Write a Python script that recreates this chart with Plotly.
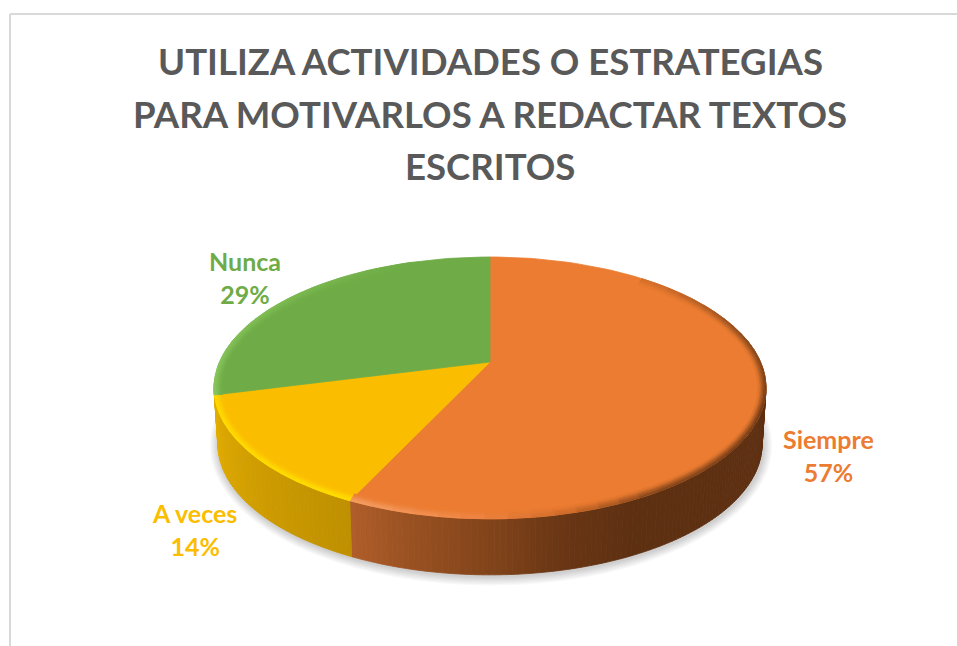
import math
import plotly.graph_objects as go

# ---- data ----
title_lines = ["UTILIZA ACTIVIDADES O ESTRATEGIAS", "PARA MOTIVARLOS A REDACTAR TEXTOS", "ESCRITOS"]
categories = ["Siempre", "A veces", "Nunca"]
percentages = [57, 14, 29]

# ---- style ----
face_colors = ["#EB7C31", "#FBBD00", "#6FAC47"]
text_colors = ["#EB7C31", "#FBBD00", "#6FAC47"]
title_color = "#595959"
# (clockwise angle, colour) stops
wall_stops = [
    [(0, "#5E3012"), (155, "#5E3012"), (168, "#6A3614"), (178, "#7E4219"), (192, "#964F20"), (205.2, "#B05E2A")],
    [(205.2, "#BF9000"), (255.6, "#E2AC00")],
    [(255.6, "#E2AC00"), (360, "#E2AC00")],
]
rim_stops = [
    [(0, "#EB7C31"), (45, "#D06C2A"), (75, "#8A4A1E"), (110, "#6A3614"), (150, "#7E4219"), (168, "#D06C2A"),
     (182, "#EE8545"), (205.2, "#F7A36B")],
    [(205.2, "#FFE000"), (255.6, "#FFDD00")],
    [(255.6, "#8CC860"), (300, "#80BE55"), (340, "#6FAC47"), (360, "#6FAC47")],
]
CX, CY = 490, 362
A, B, K = 270.5, 125.8, 0.198
ELL_CY = 388
WALL_DY, WALL_SHRINK = 56, 0.986
BEVEL = 8
RINGS = 6


def hex2rgb(h):
    return tuple(int(h[i:i + 2], 16) for i in (1, 3, 5))


def mix(c1, c2, t):
    a, b = hex2rgb(c1), hex2rgb(c2)
    return "#%02X%02X%02X" % tuple(round(a[i] + (b[i] - a[i]) * t) for i in range(3))


def ramp(stops, ang):
    if ang <= stops[0][0]:
        return stops[0][1]
    for (a0, c0), (a1, c1) in zip(stops, stops[1:]):
        if ang <= a1:
            return mix(c0, c1, (ang - a0) / (a1 - a0))
    return stops[-1][1]


def rim(ang, inset=0.0, bottom=False):
    """Project a clockwise-from-top pie angle to the perspective ellipse."""
    u, v = math.sin(math.radians(ang)), math.cos(math.radians(ang))
    w = 1 + K * v
    x, y = A * u / w, -B * v / w
    ey = y + (CY - ELL_CY)
    if inset:
        x *= 1 - inset / 276
        ey *= 1 - inset / 131
    if bottom:
        return CX + x * WALL_SHRINK, ELL_CY + WALL_DY + ey
    return CX + x, ELL_CY + ey


def frange(a0, a1, step):
    n = max(1, round((a1 - a0) / step))
    return [a0 + (a1 - a0) * i / n for i in range(n + 1)]


fig = go.Figure()


def poly(xs, ys, color):
    fig.add_trace(go.Scatter(x=xs, y=ys, mode="lines", fill="toself", fillcolor=color,
                             line=dict(color=color, width=0.8), hoverinfo="skip", showlegend=False))


# soft shadow
for i in range(7, 0, -1):
    pts = [rim(a, bottom=True) for a in frange(0, 360, 4)]
    grow = i * 1.3
    xs = [CX + (p[0] - CX) * (1 + grow / 272) + 1 for p in pts]
    ys = [ELL_CY + WALL_DY + (p[1] - ELL_CY - WALL_DY) * (1 + grow / 130) + 1.5 for p in pts]
    fig.add_trace(go.Scatter(x=xs, y=ys, mode="lines", fill="toself", fillcolor="rgba(0,0,0,0.028)",
                             line=dict(width=0), hoverinfo="skip", showlegend=False))

# slice boundaries come from the values
total = sum(percentages)
bounds = [0]
for p in percentages:
    bounds.append(bounds[-1] + p / total * 360)

# side wall: finer steps on the front, where the gradient runs
for k in range(3):
    angs = frange(bounds[k], bounds[k + 1], 1)
    for a0, a1 in zip(angs, angs[1:]):
        if k == 2 and a0 > 262:
            continue
        if k == 0 and a1 < 80:
            continue
        p = [rim(a0), rim(a1), rim(a1, bottom=True), rim(a0, bottom=True), rim(a0)]
        poly([q[0] for q in p], [q[1] for q in p], ramp(wall_stops[k], (a0 + a1) / 2))

# top faces
for k in range(3):
    angs = frange(bounds[k], bounds[k + 1], 2)
    pts = [(CX, CY)] + [rim(a) for a in angs] + [(CX, CY)]
    poly([q[0] for q in pts], [q[1] for q in pts], face_colors[k])

# bevel along the rim of the top face
for k in range(3):
    angs = frange(bounds[k], bounds[k + 1], 4)
    for r in range(RINGS):
        o, n = BEVEL * r / RINGS, BEVEL * (r + 1) / RINGS
        for a0, a1 in zip(angs, angs[1:]):
            m = (a0 + a1) / 2
            if k == 0 and m < 40:
                continue
            if k == 2 and m > 340:
                continue
            col = mix(ramp(rim_stops[k], m), face_colors[k], ((r + 0.5) / RINGS) ** 1.2)
            p = [rim(a0, o), rim(a1, o), rim(a1, n), rim(a0, n), rim(a0, o)]
            poly([q[0] for q in p], [q[1] for q in p], col)

# chart frame
shapes = [
    dict(type="line", x0=10, x1=957, y0=14, y1=14, line=dict(color="#D9D9D9", width=2)),
    dict(type="line", x0=10, x1=10, y0=14, y1=646, line=dict(color="#D9D9D9", width=2)),
]

# data labels
label_pos = [(828, 455), (194, 529.5), (245, 277)]
annotations = [
    dict(x=x, y=y, xref="x", yref="y", showarrow=False, align="center",
         text=f"<b>{c}<br>{p}%</b>", font=dict(family="Lato", size=25, color=col))
    for (x, y), c, p, col in zip(label_pos, categories, percentages, text_colors)
]

# title, one annotation per line for the reference's wide leading
title_y = [61, 114, 166]
annotations += [
    dict(x=490, y=y, xref="x", yref="y", showarrow=False, align="center", yanchor="middle",
         text=f"<b>{line}</b>", font=dict(family="Lato", size=36.6, color=title_color))
    for line, y in zip(title_lines, title_y)
]

fig.update_layout(
    width=957, height=646, margin=dict(l=0, r=0, t=0, b=0),
    paper_bgcolor="white", plot_bgcolor="white", showlegend=False,
    xaxis=dict(range=[0, 957], visible=False, fixedrange=True),
    yaxis=dict(range=[646, 0], visible=False, fixedrange=True),
    shapes=shapes, annotations=annotations,
)
fig.write_html("out.html", config={"displayModeBar": False},
               post_script="document.body.style.margin='0';document.body.style.overflow='hidden';")
